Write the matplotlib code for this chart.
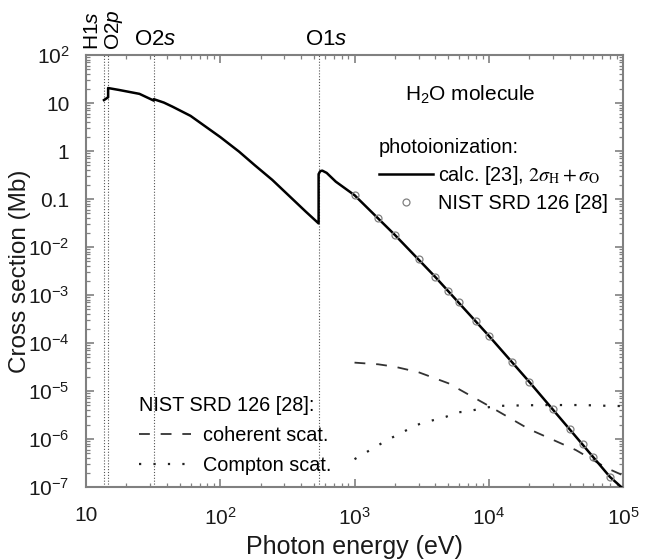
import numpy as np
import matplotlib
matplotlib.use("Agg")
import matplotlib.pyplot as plt
from matplotlib.lines import Line2D
from matplotlib.ticker import FuncFormatter, LogLocator

plt.rcParams['font.family'] = ['Liberation Sans', 'DejaVu Sans']
plt.rcParams['mathtext.fontset'] = 'custom'
plt.rcParams['mathtext.rm'] = 'Liberation Sans'
plt.rcParams['mathtext.it'] = 'Liberation Sans:italic'
plt.rcParams['mathtext.bf'] = 'Liberation Sans:bold'

# === data ===
# calculated photoionization cross section (Mb), 2*sigma_H + sigma_O
calc_E = [13.6, 14.6, 14.6, 17.6, 25, 32, 32, 38, 44, 60, 78, 100, 138, 180, 244,
          432, 540, 540, 555, 575, 620, 725, 1000, 2000, 4000, 10000, 20000,
          40000, 80000, 97000]
calc_sigma = [11.5, 13.2, 20.5, 18.7, 15.5, 11.2, 12.0, 10.2, 8.4, 5.4, 3.2, 1.95,
              0.97, 0.51, 0.25, 0.055, 0.031, 0.33, 0.38, 0.39, 0.35, 0.23, 0.12,
              0.0178, 0.00237, 1.42e-4, 1.56e-5, 1.6e-6, 1.62e-7, 1.0e-7]

# NIST SRD 126 photoionization points
nist_E = [1000, 1500, 2000, 3000, 4000, 5000, 6000, 8000, 10000, 15000, 20000,
          30000, 40000, 50000, 60000, 80000]
nist_sigma = [0.121, 0.040, 0.0178, 0.00555, 0.00237, 0.00121, 7.1e-4, 2.87e-4,
              1.42e-4, 3.95e-5, 1.56e-5, 4.15e-6, 1.59e-6, 7.8e-7, 4.3e-7, 1.64e-7]

# NIST SRD 126 scattering
coh_E = [1000, 1500, 2000, 3000, 5000, 10000, 20000, 44500, 76400, 100000]
coh_sigma = [3.9e-5, 3.6e-5, 3.2e-5, 2.46e-5, 1.45e-5, 4.9e-6, 1.6e-6, 5.9e-7,
             2.45e-7, 1.75e-7]
comp_E = [1000, 1750, 2600, 3100, 4800, 5840, 6700, 10000, 12000, 20000, 28000,
          50000, 79000, 100000]
comp_sigma = [3.8e-7, 9.5e-7, 1.67e-6, 2.1e-6, 2.9e-6, 3.6e-6, 3.7e-6, 4.6e-6,
              4.9e-6, 5.05e-6, 5.1e-6, 5.1e-6, 4.9e-6, 4.85e-6]

# absorption edges (eV)
edge_E = [13.6, 14.6, 32, 540]

GRAY = '#808080'
FS = 15
LFS = 14.3

fig = plt.figure(figsize=(6.52, 5.59), dpi=100)
ax = fig.add_axes([0.132, 0.1288, 0.8235, 0.7728])

for e in edge_E:
    ax.axvline(e, color='#555555', lw=0.8, ls=(0, (1, 1.6)), zorder=1)

ax.plot(calc_E, calc_sigma, color='black', lw=1.8, zorder=3)
ax.plot(nist_E, nist_sigma, ls='none', marker='o', ms=5, mfc='none',
        mec=GRAY, mew=0.9, zorder=4)
ax.plot(coh_E, coh_sigma, color='#333333', lw=1.3, ls=(0, (6, 6)), zorder=2)
ax.plot(comp_E, comp_sigma, color='#222222', lw=1.6, ls=(0, (1, 5.5)), zorder=2)

ax.set_xscale('log')
ax.set_yscale('log')
ax.set_xlim(10, 1e5)
ax.set_ylim(1e-7, 1e2)

ax.xaxis.set_major_locator(LogLocator(base=10, numticks=10))
ax.yaxis.set_major_locator(LogLocator(base=10, numticks=15))
ax.xaxis.set_minor_locator(LogLocator(base=10, subs=np.arange(2, 10), numticks=20))
ax.yaxis.set_minor_locator(LogLocator(base=10, subs=np.arange(2, 10), numticks=20))

def xfmt(v, pos):
    p = int(round(np.log10(v)))
    return '10' if p == 1 else r'$10^{%d}$' % p

def yfmt(v, pos):
    p = int(round(np.log10(v)))
    if p == 1:
        return '10'
    if p == 0:
        return '1'
    if p == -1:
        return '0.1'
    return r'$10^{%d}$' % p

ax.xaxis.set_major_formatter(FuncFormatter(xfmt))
ax.yaxis.set_major_formatter(FuncFormatter(yfmt))

for s in ax.spines.values():
    s.set_color(GRAY)
    s.set_linewidth(1.5)
ax.tick_params(which='both', direction='in', top=True, right=True, color=GRAY,
               labelsize=FS, labelcolor='#1a1a1a')
ax.tick_params(which='major', length=6, width=1.2)
ax.tick_params(which='minor', length=3, width=0.9)
ax.tick_params(axis='x', which='major', pad=14)
ax.tick_params(axis='y', which='major', pad=12)

ax.set_xlabel('Photon energy (eV)', fontsize=18, color='#1a1a1a', labelpad=5)
ax.set_ylabel('Cross section (Mb)', fontsize=17.5, color='#1a1a1a')
ax.yaxis.set_label_coords(-0.102, 0.5)

# edge labels above the frame
trans = ax.get_xaxis_transform()
ax.text(11.1, 1.012, 'H1$\\mathit{s}$', rotation=90, ha='center', va='bottom',
        fontsize=15, transform=trans)
ax.text(16.2, 1.012, 'O2$\\mathit{p}$', rotation=90, ha='center', va='bottom',
        fontsize=15, transform=trans)
ax.text(33, 1.012, 'O2$\\mathit{s}$', ha='center', va='bottom', fontsize=16,
        transform=trans)
ax.text(610, 1.012, 'O1$\\mathit{s}$', ha='center', va='bottom', fontsize=16,
        transform=trans)

ax.text(0.715, 0.907, 'H$_2$O molecule', ha='center', va='center', fontsize=15,
        transform=ax.transAxes)

h1 = [Line2D([], [], color='black', lw=1.8),
      Line2D([], [], ls='none', marker='o', ms=5, mfc='none', mec=GRAY, mew=0.9)]
leg1 = ax.legend(h1, [r'calc. [23], $2\sigma_{\rm H}+\sigma_{\rm O}$', 'NIST SRD 126 [28]'],
                 title='photoionization:', alignment='left', frameon=False,
                 loc='upper left', bbox_to_anchor=(0.545, 0.808), fontsize=LFS,
                 title_fontsize=LFS, handlelength=2.75, handletextpad=0.25,
                 labelspacing=0.35, borderaxespad=0, borderpad=0)
leg1.get_texts()[0].set_math_fontfamily('stix')
ax.add_artist(leg1)

h2 = [Line2D([], [], color='#333333', lw=1.3, ls=(0, (6, 6))),
      Line2D([], [], color='#222222', lw=1.6, ls=(0, (1, 5.5)))]
ax.legend(h2, ['coherent scat.', 'Compton scat.'], title='NIST SRD 126 [28]:',
          alignment='left', frameon=False, loc='upper left',
          bbox_to_anchor=(0.099, 0.21), fontsize=LFS, title_fontsize=LFS,
          handlelength=2.6, handletextpad=0.6, labelspacing=0.55,
          borderaxespad=0, borderpad=0)

fig.savefig('out.png', dpi=100)
